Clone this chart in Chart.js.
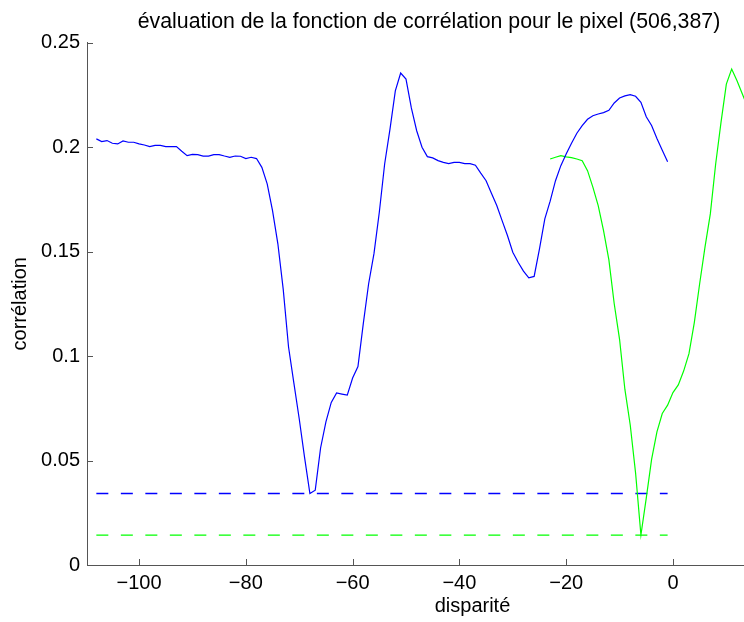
<!DOCTYPE html>
<html>
<head>
<meta charset="utf-8">
<script src="https://cdn.jsdelivr.net/npm/chart.js@4.4.1/dist/chart.umd.min.js"></script>
<style>
html, body { margin: 0; padding: 0; background: #fff; overflow: hidden; }
#wrap { position: relative; width: 858px; height: 622px; }
</style>
</head>
<body>
<div id="wrap"><canvas id="correlationChart"></canvas></div>
<script>
// courbe bleue : disparités -108 .. -1
const disparitesBleu = [
  -108, -107, -106, -105, -104, -103, -102, -101, -100, -99,
  -98, -97, -96, -95, -94, -93, -92, -91, -90, -89,
  -88, -87, -86, -85, -84, -83, -82, -81, -80, -79,
  -78, -77, -76, -75, -74, -73, -72, -71, -70, -69,
  -68, -67, -66, -65, -64, -63, -62, -61, -60, -59,
  -58, -57, -56, -55, -54, -53, -52, -51, -50, -49,
  -48, -47, -46, -45, -44, -43, -42, -41, -40, -39,
  -38, -37, -36, -35, -34, -33, -32, -31, -30, -29,
  -28, -27, -26, -25, -24, -23, -22, -21, -20, -19,
  -18, -17, -16, -15, -14, -13, -12, -11, -10, -9,
  -8, -7, -6, -5, -4, -3, -2, -1
];
const correlationBleu = [
  0.2039, 0.2026, 0.2031, 0.2018, 0.2015, 0.2029, 0.2023, 0.2023, 0.2015, 0.2010,
  0.2002, 0.2008, 0.2008, 0.2002, 0.2002, 0.2002, 0.1980, 0.1959, 0.1965, 0.1964,
  0.1957, 0.1957, 0.1964, 0.1964, 0.1957, 0.1951, 0.1957, 0.1956, 0.1945, 0.1951,
  0.1945, 0.1903, 0.1824, 0.1696, 0.1537, 0.1320, 0.1043, 0.0870, 0.0700, 0.0515,
  0.0342, 0.0358, 0.0560, 0.0685, 0.0778, 0.0823, 0.0818, 0.0813, 0.0895, 0.0950,
  0.1155, 0.1346, 0.1490, 0.1688, 0.1919, 0.2086, 0.2269, 0.2354, 0.2325, 0.2187,
  0.2078, 0.1999, 0.1954, 0.1948, 0.1935, 0.1927, 0.1921, 0.1927, 0.1927, 0.1921,
  0.1921, 0.1913, 0.1875, 0.1839, 0.1779, 0.1720, 0.1648, 0.1577, 0.1497, 0.1449,
  0.1406, 0.1374, 0.1381, 0.1513, 0.1656, 0.1741, 0.1839, 0.1911, 0.1967, 0.2018,
  0.2066, 0.2102, 0.2133, 0.2150, 0.2158, 0.2165, 0.2176, 0.2211, 0.2235, 0.2245,
  0.2251, 0.2243, 0.2214, 0.2145, 0.2103, 0.2041, 0.1985, 0.1930
];

// courbe verte : disparités -23 .. 14
const disparitesVert = [
  -23, -22, -21, -20, -19, -18, -17, -16, -15, -14,
  -13, -12, -11, -10, -9, -8, -7, -6, -5, -4,
  -3, -2, -1, 0, 1, 2, 3, 4, 5, 6,
  7, 8, 9, 10, 11, 12, 13, 14
];
const correlationVert = [
  0.1943, 0.1951, 0.1959, 0.1953, 0.1949, 0.1943, 0.1935, 0.1887, 0.1808, 0.1720,
  0.1600, 0.1460, 0.1250, 0.1080, 0.0840, 0.0670, 0.0440, 0.0143, 0.0320, 0.0505,
  0.0637, 0.0725, 0.0765, 0.0825, 0.0862, 0.0928, 0.1011, 0.1160, 0.1346, 0.1521,
  0.1680, 0.1919, 0.2118, 0.2301, 0.2373, 0.2317, 0.2254, 0.2190
];

// minima en pointillés
const disparitesSeuil = [-108, -1];
const seuilBleu = [0.0342, 0.0342];
const seuilVert = [0.0143, 0.0143];

const ticksX = [-100, -80, -60, -40, -20, 0];
const ticksY = [0, 0.05, 0.1, 0.15, 0.2, 0.25];

const points = (xs, ys) => xs.map((x, i) => ({ x: x, y: ys[i] }));

// petits traits de graduation vers l'intérieur (style matlab)
const ticksInterieurs = {
  id: 'ticksInterieurs',
  afterDraw(chart) {
    const { ctx, chartArea, scales: { x, y } } = chart;
    ctx.save();
    ctx.strokeStyle = '#555';
    ctx.lineWidth = 1;
    ctx.beginPath();
    x.ticks.forEach(t => {
      const px = Math.round(x.getPixelForValue(t.value)) + 0.5;
      ctx.moveTo(px, chartArea.bottom);
      ctx.lineTo(px, chartArea.bottom - 6);
    });
    y.ticks.forEach(t => {
      const py = Math.round(y.getPixelForValue(t.value)) + 0.5;
      ctx.moveTo(chartArea.left, py);
      ctx.lineTo(chartArea.left + 6, py);
    });
    ctx.stroke();
    ctx.restore();
  }
};

Chart.defaults.font.family = '"Liberation Sans", Arial, Helvetica, sans-serif';
Chart.defaults.color = '#000';

const ctx = document.getElementById('correlationChart').getContext('2d');

new Chart(ctx, {
  type: 'line',
  data: {
    datasets: [
      {
        data: points(disparitesBleu, correlationBleu),
        borderColor: '#0000ff',
        borderWidth: 1.2,
        pointRadius: 0,
        tension: 0
      },
      {
        data: points(disparitesVert, correlationVert),
        borderColor: '#00ff00',
        borderWidth: 1.2,
        pointRadius: 0,
        tension: 0
      },
      {
        data: points(disparitesSeuil, seuilBleu),
        borderColor: '#0000ff',
        borderWidth: 1.6,
        borderDash: [12, 12.5],
        pointRadius: 0
      },
      {
        data: points(disparitesSeuil, seuilVert),
        borderColor: '#00ff00',
        borderWidth: 1.4,
        borderDash: [12, 12.5],
        pointRadius: 0
      }
    ]
  },
  options: {
    responsive: true,
    maintainAspectRatio: false,
    animation: false,
    layout: { padding: 0 },
    plugins: {
      legend: { display: false },
      tooltip: { enabled: false },
      title: {
        display: true,
        text: 'évaluation de la fonction de corrélation pour le pixel (506,387)',
        font: { size: 21.3, weight: 'normal' },
        color: '#000',
        padding: { top: 9, bottom: 8 }
      }
    },
    scales: {
      x: {
        type: 'linear',
        min: -109.75,
        max: 34.66,
        grid: { display: false, drawTicks: false },
        border: { display: true, color: '#555', width: 1 },
        ticks: {
          padding: 6,
          font: { size: 20 },
          color: '#000',
          callback: v => String(v).replace('-', '\u2212')
        },
        afterBuildTicks: scale => { scale.ticks = ticksX.map(v => ({ value: v })); },
        afterFit: scale => { scale.height = 57; },
        title: {
          display: true,
          text: 'disparité',
          font: { size: 20 },
          color: '#000',
          padding: { top: 0, bottom: 4 }
        }
      },
      y: {
        type: 'linear',
        min: 0,
        max: 0.25,
        grid: { display: false, drawTicks: false },
        border: { display: true, color: '#555', width: 1 },
        ticks: {
          padding: 7,
          font: { size: 20 },
          color: '#000',
          callback: v => String(Math.round(v * 100) / 100)
        },
        afterBuildTicks: scale => { scale.ticks = ticksY.map(v => ({ value: v })); },
        afterFit: scale => { scale.width = 87; },
        title: {
          display: true,
          text: 'corrélation',
          font: { size: 20 },
          color: '#000',
          padding: { top: 8, bottom: 0 }
        }
      }
    }
  },
  plugins: [ticksInterieurs]
});
</script>
</body>
</html>
